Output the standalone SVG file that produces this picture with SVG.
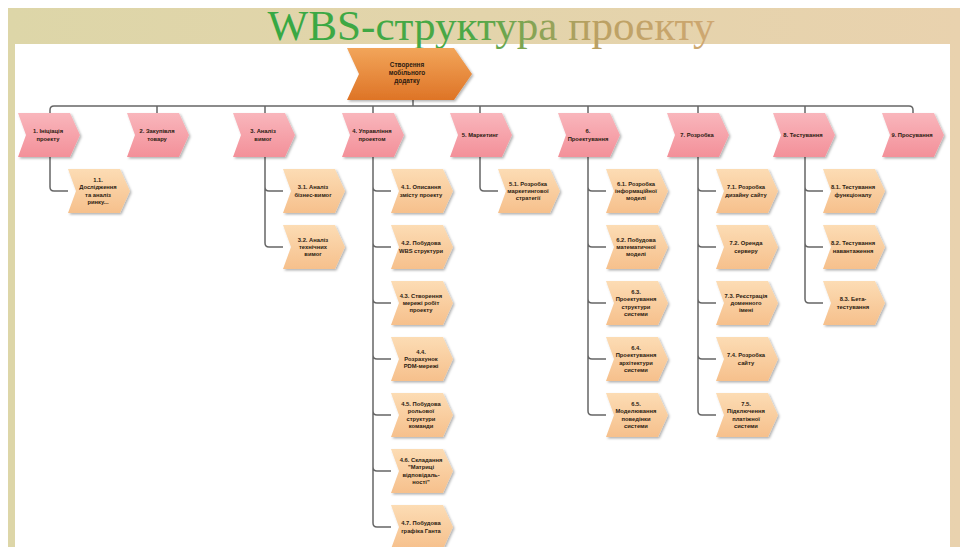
<svg xmlns="http://www.w3.org/2000/svg" xmlns:xlink="http://www.w3.org/1999/xlink" width="960" height="547" viewBox="0 0 960 547">
<style>
.t{font-family:"Liberation Sans",Arial,sans-serif;font-weight:bold;font-size:5.8px;fill:#2a1a10;text-anchor:middle}
.rt{font-family:"Liberation Sans",Arial,sans-serif;font-weight:bold;font-size:6.4px;fill:#2a1a10;text-anchor:middle}
.c{fill:none;stroke:#666;stroke-width:1.5}
</style>
<defs>
<linearGradient id="frame" x1="0" y1="0" x2="1" y2="0">
<stop offset="0" stop-color="#ddd6a8"/><stop offset="1" stop-color="#e9d2ae"/>
</linearGradient>
<linearGradient id="title" gradientUnits="userSpaceOnUse" x1="268" y1="0" x2="715" y2="0">
<stop offset="0" stop-color="#36a843"/><stop offset="0.45" stop-color="#4ca846"/><stop offset="0.72" stop-color="#b9a062"/><stop offset="1" stop-color="#cfa872"/>
</linearGradient>
<linearGradient id="pink" x1="0" y1="0" x2="0" y2="1">
<stop offset="0" stop-color="#f9b6bc"/><stop offset="1" stop-color="#f39099"/>
</linearGradient>
<linearGradient id="org" x1="0" y1="0" x2="0" y2="1">
<stop offset="0" stop-color="#fcdcb4"/><stop offset="1" stop-color="#f6c08c"/>
</linearGradient>
<linearGradient id="root" x1="0" y1="0" x2="0" y2="1">
<stop offset="0" stop-color="#f2a55a"/><stop offset="1" stop-color="#de7426"/>
</linearGradient>
<filter id="sh" x="-10%" y="-10%" width="130%" height="130%">
<feDropShadow dx="1.5" dy="1.5" stdDeviation="1" flood-color="#000" flood-opacity="0.3"/>
</filter>
<path id="l1" d="M0,0 H52 L62,22 L52,44 H0 L8,22 Z" fill="url(#pink)" filter="url(#sh)"/>
<path id="l2" d="M0,0 H52 L62,22 L52,44 H0 L8,22 Z" fill="url(#org)" filter="url(#sh)"/>
</defs>
<rect x="8" y="8" width="952" height="539" fill="url(#frame)"/>
<rect x="15" y="44" width="935" height="503" fill="#fff"/>
<text x="491" y="40" font-family="'Liberation Serif','Times New Roman',serif" font-size="42" text-anchor="middle" textLength="447" lengthAdjust="spacingAndGlyphs" fill="url(#title)">WBS-структура проекту</text>

<g id="connectors">
<path class="c" d="M413,100 V106"/>
<path class="c" d="M50,113 V110 Q50,106 54,106 H909 Q913,106 913,110 V113"/>
<path class="c" d="M157,106 V113 M265,106 V113 M373,106 V113 M480,106 V113 M588,106 V113 M698,106 V113 M805,106 V113"/>
<path class="c" d="M50,157 V187 Q50,191 54,191 H68"/>
<path class="c" d="M265,157 V187 Q265,191 269,191 H283 M265,157 V243 Q265,247 269,247 H283"/>
<path class="c" d="M373,157 V187 Q373,191 377,191 H391 M373,157 V243 Q373,247 377,247 H391 M373,157 V299 Q373,303 377,303 H391 M373,157 V355 Q373,359 377,359 H391 M373,157 V411 Q373,415 377,415 H391 M373,157 V467 Q373,471 377,471 H391 M373,157 V523 Q373,527 377,527 H391"/>
<path class="c" d="M480,157 V187 Q480,191 484,191 H498"/>
<path class="c" d="M588,157 V187 Q588,191 592,191 H606 M588,157 V243 Q588,247 592,247 H606 M588,157 V299 Q588,303 592,303 H606 M588,157 V355 Q588,359 592,359 H606 M588,157 V411 Q588,415 592,415 H606"/>
<path class="c" d="M698,157 V187 Q698,191 702,191 H716 M698,157 V243 Q698,247 702,247 H716 M698,157 V299 Q698,303 702,303 H716 M698,157 V355 Q698,359 702,359 H716 M698,157 V411 Q698,415 702,415 H716"/>
<path class="c" d="M805,157 V187 Q805,191 809,191 H823 M805,157 V243 Q805,247 809,247 H823 M805,157 V299 Q805,303 809,303 H823"/>
</g>

<g id="root-node" transform="translate(347,48)">
<path d="M0,0 H107 L125,26 L107,52 H0 L12,26 Z" fill="url(#root)" filter="url(#sh)"/>
<text class="rt" x="60" y="19">Створення<tspan x="60" dy="8">мобільного</tspan><tspan x="60" dy="8">додатку</tspan></text>
</g>

<g id="n1" transform="translate(18,113)"><use href="#l1"/><text class="t" x="30" y="20.4">1. Ініціація<tspan x="30" dy="7.2">проекту</tspan></text></g>
<g id="n2" transform="translate(127,113)"><use href="#l1"/><text class="t" x="30" y="20.4">2. Закупівля<tspan x="30" dy="7.2">товару</tspan></text></g>
<g id="n3" transform="translate(233,113)"><use href="#l1"/><text class="t" x="30" y="20.4">3. Аналіз<tspan x="30" dy="7.2">вимог</tspan></text></g>
<g id="n4" transform="translate(342,113)"><use href="#l1"/><text class="t" x="30" y="20.4">4. Управління<tspan x="30" dy="7.2">проектом</tspan></text></g>
<g id="n5" transform="translate(450,113)"><use href="#l1"/><text class="t" x="30" y="24">5. Маркетинг</text></g>
<g id="n6" transform="translate(558,113)"><use href="#l1"/><text class="t" x="30" y="20.4">6.<tspan x="30" dy="7.2">Проектування</tspan></text></g>
<g id="n7" transform="translate(667,113)"><use href="#l1"/><text class="t" x="30" y="24">7. Розробка</text></g>
<g id="n8" transform="translate(773,113)"><use href="#l1"/><text class="t" x="30" y="24">8. Тестування</text></g>
<g id="n9" transform="translate(882,113)"><use href="#l1"/><text class="t" x="30" y="24">9. Просування</text></g>

<g id="n1-1" transform="translate(68,169)"><use href="#l2"/><text class="t" x="30" y="13.2">1.1.<tspan x="30" dy="7.2">Дослідження</tspan><tspan x="30" dy="7.2">та аналіз</tspan><tspan x="30" dy="7.2">ринку...</tspan></text></g>

<g id="n3-1" transform="translate(283,169)"><use href="#l2"/><text class="t" x="30" y="20.4">3.1. Аналіз<tspan x="30" dy="7.2">бізнес-вимог</tspan></text></g>
<g id="n3-2" transform="translate(283,225)"><use href="#l2"/><text class="t" x="30" y="16.8">3.2. Аналіз<tspan x="30" dy="7.2">технічних</tspan><tspan x="30" dy="7.2">вимог</tspan></text></g>

<g id="n4-1" transform="translate(391,169)"><use href="#l2"/><text class="t" x="30" y="20.4">4.1. Описання<tspan x="30" dy="7.2">змісту проекту</tspan></text></g>
<g id="n4-2" transform="translate(391,225)"><use href="#l2"/><text class="t" x="30" y="20.4">4.2. Побудова<tspan x="30" dy="7.2">WBS структури</tspan></text></g>
<g id="n4-3" transform="translate(391,281)"><use href="#l2"/><text class="t" x="30" y="16.8">4.3. Створення<tspan x="30" dy="7.2">мережі робіт</tspan><tspan x="30" dy="7.2">проекту</tspan></text></g>
<g id="n4-4" transform="translate(391,337)"><use href="#l2"/><text class="t" x="30" y="16.8">4.4.<tspan x="30" dy="7.2">Розрахунок</tspan><tspan x="30" dy="7.2">PDM-мережі</tspan></text></g>
<g id="n4-5" transform="translate(391,393)"><use href="#l2"/><text class="t" x="30" y="13.2">4.5. Побудова<tspan x="30" dy="7.2">рольової</tspan><tspan x="30" dy="7.2">структури</tspan><tspan x="30" dy="7.2">команди</tspan></text></g>
<g id="n4-6" transform="translate(391,449)"><use href="#l2"/><text class="t" x="30" y="13.2">4.6. Складання<tspan x="30" dy="7.2">"Матриці</tspan><tspan x="30" dy="7.2">відповідаль-</tspan><tspan x="30" dy="7.2">ності"</tspan></text></g>
<g id="n4-7" transform="translate(391,505)"><use href="#l2"/><text class="t" x="30" y="20.4">4.7. Побудова<tspan x="30" dy="7.2">графіка Ганта</tspan></text></g>

<g id="n5-1" transform="translate(498,169)"><use href="#l2"/><text class="t" x="30" y="16.8">5.1. Розробка<tspan x="30" dy="7.2">маркетингової</tspan><tspan x="30" dy="7.2">стратегії</tspan></text></g>

<g id="n6-1" transform="translate(606,169)"><use href="#l2"/><text class="t" x="30" y="16.8">6.1. Розробка<tspan x="30" dy="7.2">інформаційної</tspan><tspan x="30" dy="7.2">моделі</tspan></text></g>
<g id="n6-2" transform="translate(606,225)"><use href="#l2"/><text class="t" x="30" y="16.8">6.2. Побудова<tspan x="30" dy="7.2">математичної</tspan><tspan x="30" dy="7.2">моделі</tspan></text></g>
<g id="n6-3" transform="translate(606,281)"><use href="#l2"/><text class="t" x="30" y="13.2">6.3.<tspan x="30" dy="7.2">Проектування</tspan><tspan x="30" dy="7.2">структури</tspan><tspan x="30" dy="7.2">системи</tspan></text></g>
<g id="n6-4" transform="translate(606,337)"><use href="#l2"/><text class="t" x="30" y="13.2">6.4.<tspan x="30" dy="7.2">Проектування</tspan><tspan x="30" dy="7.2">архітектури</tspan><tspan x="30" dy="7.2">системи</tspan></text></g>
<g id="n6-5" transform="translate(606,393)"><use href="#l2"/><text class="t" x="30" y="13.2">6.5.<tspan x="30" dy="7.2">Моделювання</tspan><tspan x="30" dy="7.2">поведінки</tspan><tspan x="30" dy="7.2">системи</tspan></text></g>

<g id="n7-1" transform="translate(716,169)"><use href="#l2"/><text class="t" x="30" y="20.4">7.1. Розробка<tspan x="30" dy="7.2">дизайну сайту</tspan></text></g>
<g id="n7-2" transform="translate(716,225)"><use href="#l2"/><text class="t" x="30" y="20.4">7.2. Оренда<tspan x="30" dy="7.2">серверу</tspan></text></g>
<g id="n7-3" transform="translate(716,281)"><use href="#l2"/><text class="t" x="30" y="16.8">7.3. Реєстрація<tspan x="30" dy="7.2">доменного</tspan><tspan x="30" dy="7.2">імені</tspan></text></g>
<g id="n7-4" transform="translate(716,337)"><use href="#l2"/><text class="t" x="30" y="20.4">7.4. Розробка<tspan x="30" dy="7.2">сайту</tspan></text></g>
<g id="n7-5" transform="translate(716,393)"><use href="#l2"/><text class="t" x="30" y="13.2">7.5.<tspan x="30" dy="7.2">Підключення</tspan><tspan x="30" dy="7.2">платіжної</tspan><tspan x="30" dy="7.2">системи</tspan></text></g>

<g id="n8-1" transform="translate(823,169)"><use href="#l2"/><text class="t" x="30" y="20.4">8.1. Тестування<tspan x="30" dy="7.2">функціоналу</tspan></text></g>
<g id="n8-2" transform="translate(823,225)"><use href="#l2"/><text class="t" x="30" y="20.4">8.2. Тестування<tspan x="30" dy="7.2">навантаження</tspan></text></g>
<g id="n8-3" transform="translate(823,281)"><use href="#l2"/><text class="t" x="30" y="20.4">8.3. Бета-<tspan x="30" dy="7.2">тестування</tspan></text></g>
</svg>
